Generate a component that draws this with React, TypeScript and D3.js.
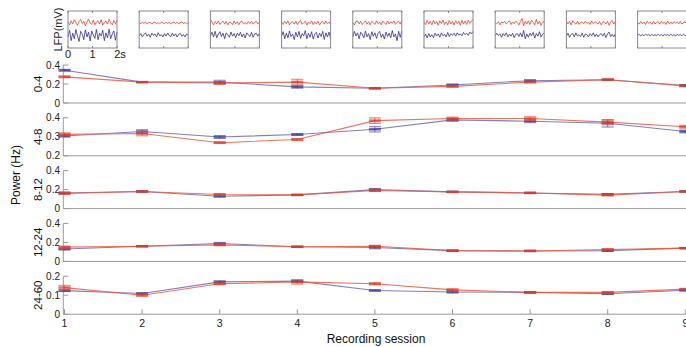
import React from "react";
import * as d3 from "d3";

const sessions = [1, 2, 3, 4, 5, 6, 7, 8, 9];
const bandLabels = ["0-4", "4-8", "8-12", "12-24", "24-60"];
const bandDomains: [number, number][] = [[0, 0.4], [0.2, 0.4], [0, 0.4], [0, 0.4], [0, 0.2]];
const bandTicks = [[0, 0.2, 0.4], [0.2, 0.3, 0.4], [0, 0.2, 0.4], [0, 0.2, 0.4], [0, 0.1, 0.2]];

const blue04 = [0.345, 0.22, 0.22, 0.17, 0.155, 0.19, 0.235, 0.245, 0.185];
const red04 = [0.275, 0.22, 0.21, 0.22, 0.155, 0.175, 0.22, 0.245, 0.18];
const blue48 = [0.304, 0.328, 0.299, 0.312, 0.34, 0.389, 0.382, 0.371, 0.328];
const red48 = [0.313, 0.317, 0.269, 0.286, 0.385, 0.396, 0.396, 0.377, 0.353];
const blue812 = [0.165, 0.18, 0.13, 0.144, 0.2, 0.176, 0.165, 0.15, 0.18];
const red812 = [0.16, 0.18, 0.148, 0.144, 0.19, 0.176, 0.165, 0.142, 0.18];
const blue1224 = [0.13, 0.16, 0.188, 0.154, 0.147, 0.113, 0.11, 0.113, 0.14];
const red1224 = [0.15, 0.16, 0.174, 0.154, 0.16, 0.113, 0.11, 0.126, 0.14];
const blue2460 = [0.124, 0.109, 0.17, 0.174, 0.125, 0.117, 0.115, 0.108, 0.126];
const red2460 = [0.14, 0.1, 0.16, 0.17, 0.16, 0.128, 0.115, 0.115, 0.132];

const blueErr04 = [0.01, 0.005, 0.02, 0.015, 0.005, 0.01, 0.01, 0.005, 0.01];
const redErr04 = [0.01, 0.005, 0.015, 0.03, 0.005, 0.01, 0.01, 0.008, 0.01];
const blueErr48 = [0.005, 0.01, 0.008, 0.005, 0.015, 0.008, 0.008, 0.02, 0.008];
const redErr48 = [0.008, 0.012, 0.005, 0.005, 0.015, 0.008, 0.01, 0.01, 0.008];
const blueErr812 = [0.01, 0.008, 0.01, 0.005, 0.012, 0.006, 0.006, 0.008, 0.006];
const redErr812 = [0.01, 0.008, 0.01, 0.006, 0.01, 0.006, 0.006, 0.008, 0.006];
const blueErr1224 = [0.01, 0.006, 0.012, 0.005, 0.015, 0.006, 0.006, 0.008, 0.006];
const redErr1224 = [0.012, 0.006, 0.01, 0.006, 0.01, 0.006, 0.006, 0.008, 0.006];
const blueErr2460 = [0.005, 0.004, 0.006, 0.006, 0.004, 0.006, 0.004, 0.005, 0.004];
const redErr2460 = [0.012, 0.006, 0.005, 0.012, 0.006, 0.006, 0.004, 0.005, 0.004];

const blueSeries = [blue04, blue48, blue812, blue1224, blue2460];
const redSeries = [red04, red48, red812, red1224, red2460];
const blueErrs = [blueErr04, blueErr48, blueErr812, blueErr1224, blueErr2460];
const redErrs = [redErr04, redErr48, redErr812, redErr1224, redErr2460];

// LFP example traces (mV), one per session
const lfpRed1 = [0.05,-0.1,0.12,-0.05,0.18,0.02,-0.12,0.08,0.2,-0.02,0.1,-0.15,0.05,0.22,0.0,-0.08,0.15,-0.1,0.06,0.12,-0.05,0.18,-0.12,0.04,0.1,-0.06,0.2,0.02,-0.1,0.14,-0.04,0.16];
const lfpBlue1 = [-0.1,0.25,-0.3,0.1,-0.2,0.3,-0.05,-0.35,0.2,0.05,-0.25,0.28,-0.1,0.15,-0.32,0.22,0.0,-0.18,0.3,-0.25,0.1,-0.05,0.26,-0.3,0.12,-0.15,0.32,-0.2,0.05,0.22,-0.28,0.15];
const lfpRed2 = [0.03,-0.04,0.05,-0.02,0.06,-0.05,0.02,0.04,-0.06,0.03,0.05,-0.03,0.02,-0.05,0.06,0.0,-0.04,0.05,-0.02,0.04,-0.06,0.03,0.05,-0.02,0.04,-0.05,0.02,0.06,-0.03,0.04,-0.05,0.03];
const lfpBlue2 = [-0.05,0.08,-0.1,0.03,0.12,-0.06,0.05,-0.12,0.1,-0.02,0.06,-0.09,0.13,-0.04,0.02,-0.1,0.08,-0.06,0.11,-0.03,-0.08,0.1,-0.05,0.07,-0.11,0.04,0.09,-0.07,0.03,-0.1,0.06,-0.02];
const lfpRed3 = [0.2,0.05,-0.1,0.08,-0.05,0.12,-0.08,0.04,0.1,-0.06,0.09,-0.1,0.05,0.02,-0.08,0.11,-0.04,0.07,-0.09,0.06,0.1,-0.05,0.03,-0.07,0.08,-0.03,0.1,-0.06,0.04,0.09,-0.05,0.06];
const lfpBlue3 = [-0.05,0.15,-0.1,0.2,-0.15,0.05,0.18,-0.08,0.1,-0.2,0.12,0.02,-0.12,0.16,-0.06,0.08,-0.14,0.1,-0.04,0.15,-0.1,0.06,-0.16,0.12,0.0,-0.08,0.14,-0.12,0.05,0.1,-0.06,0.08];
const lfpRed4 = [0.06,-0.08,0.1,-0.04,0.12,-0.1,0.04,0.08,-0.06,0.11,-0.09,0.05,0.13,-0.07,0.02,0.1,-0.11,0.06,-0.03,0.12,-0.08,0.07,-0.05,0.1,-0.1,0.04,0.09,-0.06,0.11,-0.04,0.05,-0.08];
const lfpBlue4 = [-0.05,0.18,-0.2,0.1,-0.15,0.22,-0.08,0.05,-0.25,0.15,-0.1,0.2,-0.18,0.08,-0.05,0.24,-0.2,0.1,-0.12,0.18,-0.22,0.06,0.15,-0.16,0.1,-0.08,0.2,-0.24,0.12,-0.1,0.16,-0.2];
const lfpRed5 = [0.04,-0.1,0.08,0.12,-0.05,0.1,-0.08,0.03,0.11,-0.06,0.07,-0.1,0.09,0.02,-0.07,0.12,-0.04,0.06,-0.09,0.1,0.01,-0.08,0.11,-0.05,0.08,-0.02,0.12,-0.07,0.05,0.1,-0.06,0.14];
const lfpBlue5 = [-0.1,0.2,-0.05,0.12,-0.2,0.15,0.05,-0.15,0.22,-0.1,0.08,-0.25,0.18,-0.06,0.12,-0.18,0.1,0.2,-0.12,0.05,-0.22,0.16,-0.08,0.1,-0.15,0.24,-0.1,0.06,-0.3,0.2,-0.12,0.22];
const lfpRed6 = [0.05,-0.08,0.14,-0.06,0.1,-0.1,0.15,-0.04,0.08,-0.12,0.12,-0.02,0.16,-0.08,0.06,-0.1,0.14,-0.05,0.1,-0.11,0.13,-0.03,0.09,-0.12,0.15,-0.06,0.11,-0.08,0.16,-0.02,0.12,0.18];
const lfpBlue6 = [-0.12,0.05,-0.15,0.08,-0.1,0.02,-0.14,0.1,-0.06,0.06,-0.12,0.12,-0.04,0.04,-0.1,0.14,-0.08,0.08,-0.02,0.1,-0.06,0.12,0.0,0.06,-0.04,0.14,0.02,0.1,-0.02,0.16,0.06,0.2];
const lfpRed7 = [0.02,-0.05,0.08,-0.1,0.05,0.0,0.1,-0.06,0.04,0.12,-0.08,0.06,-0.04,0.1,0.02,-0.1,0.08,0.25,-0.15,0.1,-0.05,0.12,-0.08,0.15,0.04,-0.1,0.2,-0.05,0.1,-0.12,0.06,0.08];
const lfpBlue7 = [-0.05,0.1,-0.02,0.06,-0.12,0.08,-0.04,0.12,-0.1,0.05,-0.06,0.1,-0.14,0.04,0.08,-0.08,0.12,-0.1,0.25,-0.2,0.06,-0.12,0.1,-0.04,0.14,-0.16,0.08,-0.06,0.18,-0.1,0.04,0.12];
const lfpRed8 = [0.1,-0.05,0.08,-0.1,0.12,0.02,-0.06,0.1,-0.08,0.04,0.06,-0.04,0.09,-0.02,0.05,-0.08,0.11,-0.03,0.06,0.02,-0.06,0.08,-0.1,0.04,0.07,-0.05,0.1,-0.12,0.06,0.14,-0.06,0.1];
const lfpBlue8 = [-0.06,0.1,-0.12,0.04,0.08,-0.1,0.12,-0.05,0.02,-0.08,0.1,-0.12,0.06,0.02,-0.1,0.08,-0.04,0.12,-0.08,0.05,-0.1,0.02,0.08,-0.06,0.1,-0.14,0.06,0.16,-0.08,0.04,-0.1,0.06];
const lfpRed9 = [0.02,-0.06,0.08,-0.04,0.06,-0.08,0.1,-0.02,0.05,-0.07,0.09,-0.05,0.03,0.07,-0.06,0.08,-0.03,0.05,-0.08,0.1,-0.04,0.06,-0.06,0.08,-0.02,0.07,-0.05,0.09,-0.06,0.04,0.08,-0.04];
const lfpBlue9 = [-0.02,0.04,-0.05,0.03,-0.04,0.05,-0.02,0.03,-0.05,0.04,-0.03,0.02,-0.04,0.05,-0.03,0.03,-0.05,0.04,-0.02,0.03,-0.04,0.05,-0.03,0.02,-0.05,0.04,-0.02,0.03,-0.04,0.05,-0.03,0.02];

const lfpRed = [lfpRed1, lfpRed2, lfpRed3, lfpRed4, lfpRed5, lfpRed6, lfpRed7, lfpRed8, lfpRed9];
const lfpBlue = [lfpBlue1, lfpBlue2, lfpBlue3, lfpBlue4, lfpBlue5, lfpBlue6, lfpBlue7, lfpBlue8, lfpBlue9];
const insetTickLabels = ["0", "1", "2s"];

const W = 686, H = 347;
const FONT = "'Liberation Sans', Arial, sans-serif";
const RED_LINE = "#ee5a3e";
const BLUE_LINE = "#6a6ab8";
const RED_DARK = "#d62a1e";
const BLUE_DARK = "#22228a";
const AXIS = "#9a9a9a";

export default function App() {
  const x = d3.scaleLinear().domain([1, 9]).range([64.5, 685.3]);
  const panelTop = 65, panelStep = 52.8, panelH = 38;
  const axisLeft = 63.3;

  const insetX0 = 68, insetStep = 71.2, insetW = 49, insetTop = 11, insetBottom = 48;

  return (
    <svg width={W} height={H} style={{ position: "absolute", left: 0, top: 0, background: "#fff" }} fontFamily={FONT}>
      {/* Insets */}
      {sessions.map((s, i) => {
        const x0 = insetX0 + i * insetStep;
        const ix = d3.scaleLinear().domain([0, 2]).range([x0, x0 + insetW]);
        const iy = d3.scaleLinear().domain([-1, 1]).range([insetBottom, insetTop]);
        const mk = (arr: number[], off: number) =>
          d3.line<number>().x((_, k) => ix((k / (arr.length - 1)) * 2)).y((v) => iy(v + off))(arr) || "";
        return (
          <g key={"inset" + i}>
            <path d={mk(lfpRed[i], 0.35)} fill="none" stroke="#e8382a" strokeWidth={0.9} strokeOpacity={0.85} />
            <path d={mk(lfpBlue[i], -0.3)} fill="none" stroke="#27278f" strokeWidth={0.9} strokeOpacity={0.85} />
            <rect x={x0} y={insetTop} width={insetW} height={insetBottom - insetTop} fill="none" stroke="#8a8a8a" strokeWidth={1} />
            {[0, 1, 2].map((t) => (
              <g key={t}>
                <line x1={ix(t)} x2={ix(t)} y1={insetTop} y2={insetTop + 2} stroke="#8a8a8a" />
                <line x1={ix(t)} x2={ix(t)} y1={insetBottom} y2={insetBottom - 2} stroke="#8a8a8a" />
              </g>
            ))}
            {i === 0 &&
              insetTickLabels.map((lab, t) => (
                <text key={lab} x={ix(t) + (t === 2 ? 3 : 0)} y={57.5} fontSize={11} fill="#222" textAnchor="middle">
                  {lab}
                </text>
              ))}
          </g>
        );
      })}
      <text transform={`translate(62,${(insetTop + insetBottom) / 2}) rotate(-90)`} fontSize={11} fill="#222" textAnchor="middle">
        LFP(mV)
      </text>

      {/* Panels */}
      {bandLabels.map((lab, p) => {
        const top = panelTop + p * panelStep;
        const bottom = top + panelH;
        const y = d3.scaleLinear().domain(bandDomains[p]).range([bottom, top]);
        const line = d3.line<number>().x((_, k) => x(sessions[k])).y((v) => y(v));
        const drawSeries = (vals: number[], errs: number[], lineCol: string, dark: string, key: string) => (
          <g key={key}>
            <path d={line(vals) || ""} fill="none" stroke={lineCol} strokeWidth={1.1} strokeOpacity={0.85} />
            {vals.map((v, k) => {
              const cx = x(sessions[k]);
              const y1 = y(v + errs[k]);
              const y2 = y(v - errs[k]);
              return (
                <g key={k}>
                  <rect x={cx - 6} y={y1} width={12} height={Math.max(0.5, y2 - y1)} fill={lineCol} fillOpacity={0.25} />
                  <line x1={cx} x2={cx} y1={y1} y2={y2} stroke={dark} strokeWidth={0.8} strokeOpacity={0.7} />
                  <line x1={cx - 6} x2={cx + 6} y1={y1} y2={y1} stroke={lineCol} strokeWidth={0.9} strokeOpacity={0.8} />
                  <line x1={cx - 6} x2={cx + 6} y1={y2} y2={y2} stroke={lineCol} strokeWidth={0.9} strokeOpacity={0.8} />
                  <rect x={cx - 6} y={y(v) - 1.2} width={12} height={2.4} fill={dark} fillOpacity={0.55} />
                </g>
              );
            })}
          </g>
        );
        return (
          <g key={lab}>
            <line x1={axisLeft} x2={W} y1={bottom} y2={bottom} stroke={AXIS} strokeWidth={1} />
            <line x1={axisLeft} x2={axisLeft} y1={top} y2={bottom} stroke={AXIS} strokeWidth={1} />
            {bandTicks[p].map((t) => (
              <g key={t}>
                <line x1={axisLeft} x2={axisLeft + 5} y1={y(t)} y2={y(t)} stroke={AXIS} strokeWidth={1} />
                <text x={60} y={y(t) + 3.5} fontSize={10} fill="#222" textAnchor="end">
                  {t === 0 ? "0" : String(t)}
                </text>
              </g>
            ))}
            <text transform={`translate(42,${(top + bottom) / 2}) rotate(-90)`} fontSize={11.5} fill="#111" textAnchor="middle">
              {lab}
            </text>
            {drawSeries(blueSeries[p], blueErrs[p], BLUE_LINE, BLUE_DARK, "b")}
            {drawSeries(redSeries[p], redErrs[p], RED_LINE, RED_DARK, "r")}
            {p === bandLabels.length - 1 &&
              sessions.map((s) => (
                <g key={s}>
                  <line x1={x(s)} x2={x(s)} y1={bottom} y2={bottom - 5} stroke={AXIS} strokeWidth={1} />
                  <text x={x(s)} y={bottom + 13} fontSize={10.5} fill="#222" textAnchor="middle">
                    {s}
                  </text>
                </g>
              ))}
          </g>
        );
      })}
      <text transform="translate(20,175) rotate(-90)" fontSize={12} fill="#111" textAnchor="middle">
        Power (Hz)
      </text>
      <text x={376} y={343} fontSize={12} fill="#111" textAnchor="middle">
        Recording session
      </text>
    </svg>
  );
}
